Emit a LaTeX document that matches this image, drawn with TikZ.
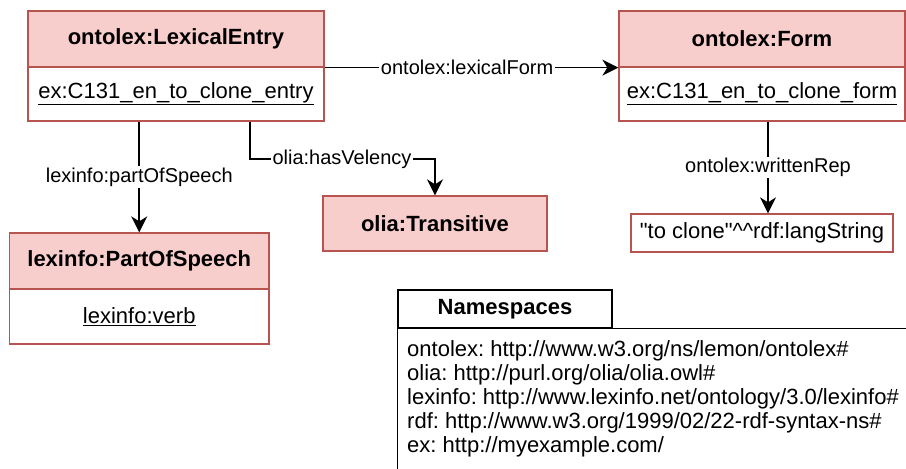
\documentclass[tikz,border=0pt]{standalone}
\usepackage{fontspec}
\setmainfont{Liberation Sans}
% same face without the TeX input mapping, so " stays a straight quote
\newfontfamily\litfont{Liberation Sans}[Mapping=]
\usetikzlibrary{arrows.meta}
\definecolor{clsfill}{HTML}{F8CECC}
\definecolor{clsline}{HTML}{B85450}
\frenchspacing
\tikzset{
  clshead/.style={draw=clsline, fill=clsfill, line width=1.3pt, inner sep=0pt,
    font=\bfseries\fontsize{22}{26}\selectfont},
  clsbody/.style={draw=clsline, fill=white, line width=1.3pt, inner sep=0pt,
    font=\fontsize{22}{26}\selectfont},
  edgelabel/.style={fill=white, inner sep=1.5pt, font=\fontsize{20}{24}\selectfont},
  rel/.style={line width=1.6pt, -{Stealth[length=16pt,width=16pt,inset=5pt]}},
  nsline/.style={anchor=base west, inner sep=0pt, font=\fontsize{22}{26}\selectfont},
}
\begin{document}
\begin{tikzpicture}[x=1pt,y=-1pt]
\clip (0,0) rectangle (906,469);
\fill[white] (0,0) rectangle (906,469);

% lexical entry
\node[clshead, minimum width=296pt, minimum height=56pt] (leH) at (176,39) {ontolex:LexicalEntry};
\node[clsbody, minimum width=296pt, minimum height=54pt] (leB) at (176,94) {\underline{ex:C131\_en\_to\_clone\_entry}};

% form
\node[clshead, minimum width=286pt, minimum height=56pt] (fmH) at (762,39) {ontolex:Form};
\node[clsbody, minimum width=286pt, minimum height=54pt] (fmB) at (762,94) {\underline{ex:C131\_en\_to\_clone\_form}};

% part of speech
\node[clshead, minimum width=259.5pt, minimum height=56pt] (posH) at (139.25,261) {lexinfo:PartOfSpeech};
\node[clsbody, minimum width=259.5pt, minimum height=55pt] (posB) at (139.25,316.5) {\underline{lexinfo:verb}};

% valency
\node[clshead, minimum width=224pt, minimum height=55pt] (trans) at (435,223.5) {olia:Transitive};

% literal
\node[clsbody, minimum width=262pt, minimum height=38pt] (lit) at (762,233) {\litfont "to clone"\textasciicircum\textasciicircum rdf:langString};

% relations
\draw[rel] (leH.south east) -- (fmH.south west)
  node[pos=0.485, edgelabel] {ontolex:lexicalForm};
\draw[rel] (leB.south -| posH.north) -- (posH.north)
  node[midway, edgelabel] {lexinfo:partOfSpeech};
\coordinate (hv) at (342,159);
\draw[rel] ([xshift=74pt]leB.south) |- (hv) -| (trans.north);
\node[edgelabel] (hvlabel) at (hv) {olia:hasVelency};
\draw[rel] ([xshift=6pt]fmB.south) -- ([xshift=6pt]lit.north)
  node[midway, edgelabel] {ontolex:writtenRep};

% namespaces
\node[draw, line width=1.3pt, fill=white, inner sep=0pt, minimum width=214pt, minimum height=38pt,
  font=\bfseries\fontsize{22}{26}\selectfont] (nsH) at (505,309) {Namespaces};
\draw[line width=1.3pt] (nsH.south west) -- (nsH.south west |- 0,480);
\draw[line width=1.3pt] (nsH.south west) -- (nsH.south west -| 920,0);
\node[nsline] (ns1) at (407,356) {ontolex: http://www.w3.org/ns/lemon/ontolex\#};
\node[nsline] (ns2) at (407,380) {olia: http://purl.org/olia/olia.owl\#};
\node[nsline] (ns3) at (407,404) {lexinfo: http://www.lexinfo.net/ontology/3.0/lexinfo\#};
\node[nsline] (ns4) at (407,428) {rdf: http://www.w3.org/1999/02/22-rdf-syntax-ns\#};
\node[nsline] (ns5) at (407,452) {ex: http://myexample.com/};
\end{tikzpicture}
\end{document}
